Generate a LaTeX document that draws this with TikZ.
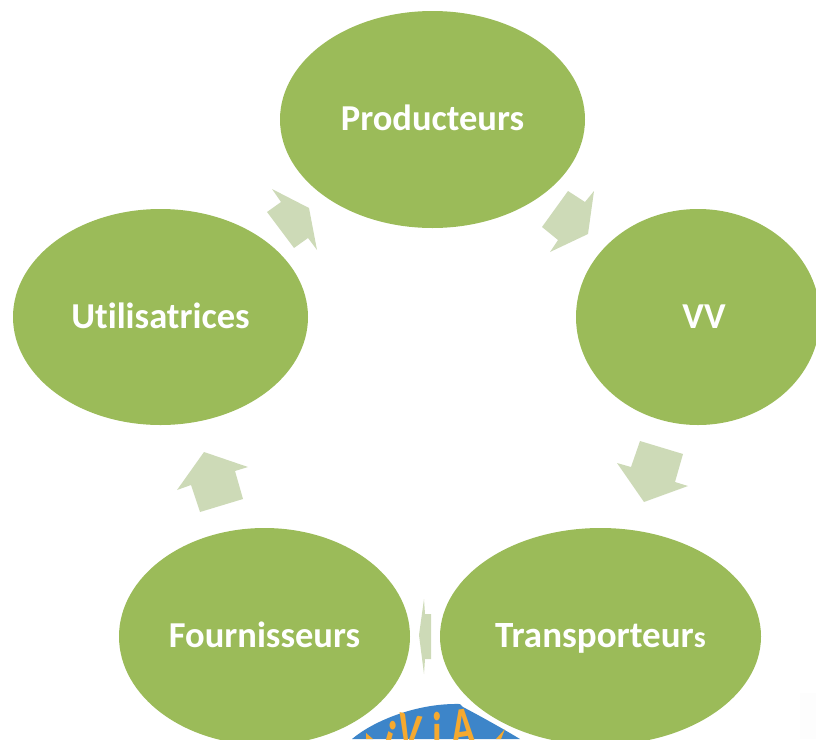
\documentclass[tikz,border=0pt]{standalone}
\usepackage{fontspec}
\setmainfont{Carlito}[Ligatures=CommonOff]
\usetikzlibrary{shapes.geometric}

\definecolor{leafgreen}{HTML}{9BBB59}
\definecolor{palegreen}{HTML}{CDDAB7}
\definecolor{logoblue}{HTML}{3D85C9}
\definecolor{logoorange}{HTML}{F5A92F}
\definecolor{offwhite}{HTML}{FDFDFD}

\tikzset{
  actor/.style={ellipse, fill=leafgreen, text=white, inner sep=0pt, outer sep=0pt,
    text height=27pt, text depth=5pt, font=\fontsize{36.5}{40}\selectfont\bfseries},
  flowarrow/.style={fill=palegreen},
  logoletter/.style={text=logoorange, inner sep=0pt, anchor=base, xscale=0.7,
    font=\fontsize{56}{60}\selectfont\bfseries}
}

\begin{document}
\begin{tikzpicture}[x=1pt, y=-1pt]

  \useasboundingbox (0,0) rectangle (816,739);
  \clip (0,0) rectangle (816,739);

  \fill[offwhite] (800,693) rectangle (816,739);

  % the five ellipses
  \node[actor, minimum width=305pt, minimum height=217pt] (prod) at (432.5,119.5) {Producteurs};
  \node[actor, minimum width=244pt, minimum height=216pt] (vv) at (698,317) {\hspace*{12pt}VV};
  \node[actor, minimum width=321pt, minimum height=217pt] (trans) at (600.5,636.5)
    {\fontsize{37}{40}\selectfont Transporteur{\fontsize{30}{32}\selectfont s}};
  \node[actor, minimum width=291pt, minimum height=217pt] (four) at (264.5,636.5) {Fournisseurs};
  \node[actor, minimum width=295pt, minimum height=216pt] (util) at (160.5,317) {Utilisatrices};

  % block arrows
  \fill[flowarrow] (568,191) -- (585,202) -- (594,191) -- (588,234) -- (550,252) -- (558,240) -- (542,227) -- cycle;
  \fill[flowarrow] (640,441) -- (683,454) -- (675,482) -- (688,486) -- (644,502) -- (617,463) -- (631,467) -- cycle;
  \fill[flowarrow] (424,599) -- (425,614) -- (431,614) -- (431,659) -- (425,659) -- (424,674) -- (419,635) -- cycle;
  \fill[flowarrow] (204,452) -- (248,467) -- (235,471) -- (243,499) -- (200,512) -- (191,485) -- (177,490) -- cycle;
  \fill[flowarrow] (272,189) -- (309,208) -- (317,250) -- (308,238) -- (294,248) -- (267,212) -- (281,202) -- cycle;

  % logo, cut by the page edge
  \fill[logoblue] (352,739) .. controls (372,722) and (415,703) .. (460,704)
    -- (463,707) .. controls (480,716) and (500,727) .. (520,739) -- cycle;
  \node[logoletter, rotate=-22] (logoa) at (384,758) {i};
  \node[logoletter, rotate=-8] (logob) at (408,751) {V};
  \node[logoletter] (logoc) at (437,751) {i};
  \node[logoletter, rotate=6] (logod) at (464,746) {A};
  \fill[logoorange] (366,733) -- (373,739) -- (366,739) -- cycle;
  \fill[logoorange] (505,729) -- (501,739) -- (496,739) -- cycle;
\end{tikzpicture}
\end{document}
